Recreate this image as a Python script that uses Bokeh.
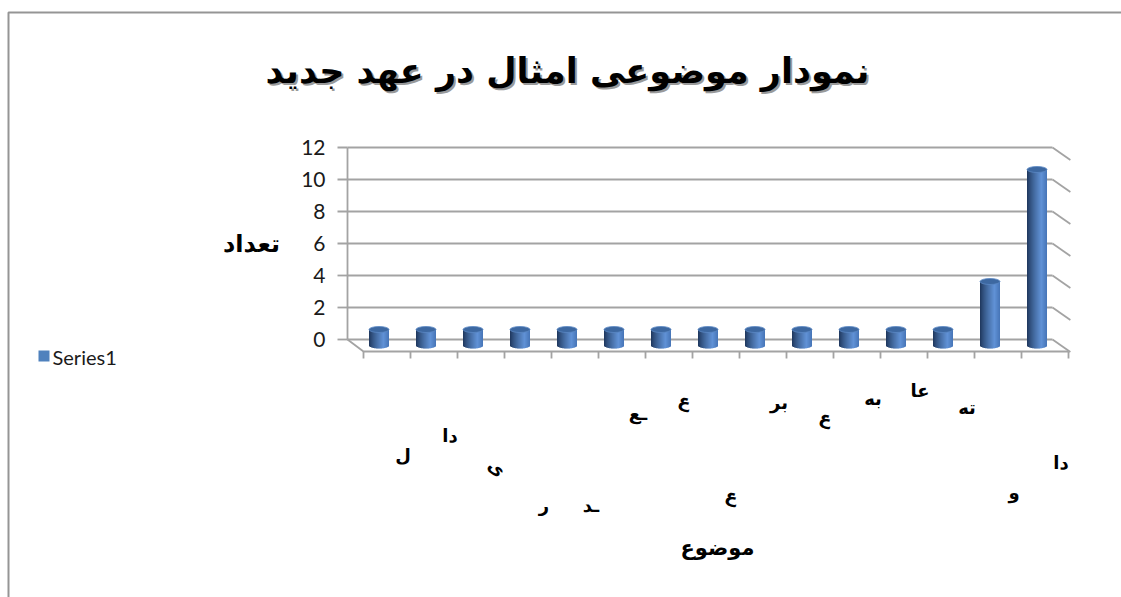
import numpy as np
from bokeh.plotting import figure
from bokeh.models import Range1d
from bokeh.core.properties import value
from bokeh.embed import file_html
from bokeh.resources import INLINE

# ---- chart content -------------------------------------------------------
title_text = "نمودار موضوعی امثال در عهد جدید"
y_title = "تعداد"
x_title = "موضوع"
series_name = "Series1"

# category labels (only short pieces of each label are visible)
category_labels = ["ل", "دا", "ی", "ر", "ـد", "ـع", "ع", "ع", "بر", "ع",
                   "به", "عا", "ته", "و", "دا"]
counts = [1, 1, 1, 1, 1, 1, 1, 1, 1, 1, 1, 1, 1, 4, 11]
y_ticks = [0, 2, 4, 6, 8, 10, 12]

# how far below the floor each category label sits (px) and its tilt
label_drop = [104, 84, 116, 154, 154, 62, 49, 144, 51, 66, 47, 39, 56, 141, 111]
label_angle = [0, 0, -0.7, 0, 0, 0, -0.3, -0.3, 0, -0.3, 0, 0, 0, 0, 0]

# ---- geometry of the pseudo-3D frame ------------------------------------
W, H = 1121, 597
X0, Y0 = 363, 351          # front-left corner of the floor (px)
PX_U, PX_V = 47, 16        # px per category, px per count unit
DX, DY = -16, -12          # back wall offset from the front plane (px)

def ux(px):
    return (px - X0) / PX_U

def vy(py):
    return (Y0 - py) / PX_V

du, dv = DX / PX_U, -DY / PX_V
n = len(counts)

p = figure(width=W, height=H, output_backend="svg", toolbar_location=None,
           x_range=Range1d(ux(0), ux(W)), y_range=Range1d(vy(H), vy(0)),
           min_border=0, x_axis_location=None, y_axis_location=None,
           background_fill_color="white", border_fill_color="white",
           outline_line_color=None)
p.grid.visible = False

grid_col = "#a3a3a3"
gw = 1.8

# outer chart border
p.line([ux(8), ux(8), ux(W + 5)], [vy(H + 5), vy(12), vy(12)],
       line_color="#959595", line_width=2)

# back-wall gridlines and right side-wall lines
ticks = np.array(y_ticks, dtype=float)
p.segment(x0=[du] * len(ticks), y0=ticks + dv, x1=[n + du] * len(ticks),
          y1=ticks + dv, line_color=grid_col, line_width=gw)
p.segment(x0=[n + du] * len(ticks), y0=ticks + dv, x1=[n + 0.04] * len(ticks),
          y1=ticks - 0.03, line_color=grid_col, line_width=gw)
# left wall edge and its tick marks
p.segment(x0=[du], y0=[dv], x1=[du], y1=[ticks.max() + dv],
          line_color=grid_col, line_width=gw)
p.segment(x0=[du - 10 / PX_U] * len(ticks), y0=ticks + dv,
          x1=[du] * len(ticks), y1=ticks + dv, line_color=grid_col, line_width=gw)
# floor edges
p.line([du, 0, n], [dv, 0, 0], line_color=grid_col, line_width=gw)
idx = np.arange(n + 1)
p.segment(x0=idx, y0=[0] * (n + 1), x1=idx, y1=[-7 / PX_V] * (n + 1),
          line_color=grid_col, line_width=gw)

# y tick labels
p.text(x=[ux(325)] * len(ticks), y=ticks + dv, text=[str(t) for t in y_ticks],
       text_font=value("Lato"), text_font_size="21px", text_color="#1a1a1a",
       text_align="right", text_baseline="middle")

# ---- cylinders -----------------------------------------------------------
def shade(t):
    # horizontal shading across a cylinder: dark left edge, highlight right of centre
    dark = np.array([28, 52, 88])
    light = np.array([96, 146, 214])
    edge = np.array([70, 116, 182])
    if t < 0.72:
        c = dark + (light - dark) * (t / 0.72) ** 0.8
    else:
        c = light + (edge - light) * ((t - 0.72) / 0.28)
    return "#%02x%02x%02x" % tuple(int(round(x)) for x in c)

half_w = 10 / PX_U
ry = 3 / PX_V
stripes = 20
centers = np.arange(n) + 0.5 + du / 2
base = dv / 2
vals = np.array(counts, dtype=float)
for j in range(stripes):
    t0 = j / stripes
    tc = (j + 0.5) / stripes
    s = 2 * tc - 1
    left = centers - half_w + 2 * half_w * t0
    right = left + 2 * half_w / stripes * 1.35
    right = np.minimum(right, centers + half_w)
    bottom = base - ry * np.sqrt(max(0.0, 1 - s * s))
    p.quad(left=left, right=right, bottom=[bottom] * n, top=vals + base,
           fill_color=shade(tc), line_color=None)
# top caps
p.ellipse(x=centers, y=vals + base, width=20, height=6,
          width_units="screen", height_units="screen",
          fill_color="#3d68a1", line_color="#5a88c4", line_width=0.8)

# ---- category labels -----------------------------------------------------
lx = np.arange(n) + 0.5 + 16 / PX_U
ly = [vy(Y0 + d) for d in label_drop]
p.text(x=lx, y=ly, text=category_labels, angle=label_angle,
       text_font=value("DejaVu Sans"), text_font_style="bold",
       text_font_size="18px", text_color="black",
       text_align="center", text_baseline="middle")

# ---- titles --------------------------------------------------------------
p.text(x=[ux(569)], y=[vy(72)], text=[title_text], text_font=value("DejaVu Sans"),
       text_font_style="bold", text_font_size="35px", text_color="#9a9a9a",
       text_align="center", text_baseline="middle")
p.text(x=[ux(567)], y=[vy(70)], text=[title_text], text_font=value("DejaVu Sans"),
       text_font_style="bold", text_font_size="35px", text_color="black",
       text_align="center", text_baseline="middle")

p.text(x=[ux(251)], y=[vy(243)], text=[y_title], text_font=value("DejaVu Sans"),
       text_font_style="bold", text_font_size="24px", text_color="black",
       text_align="center", text_baseline="middle")
p.text(x=[ux(717)], y=[vy(547)], text=[x_title], text_font=value("DejaVu Sans"),
       text_font_style="bold", text_font_size="21px", text_color="black",
       text_align="center", text_baseline="middle")

# ---- legend --------------------------------------------------------------
p.scatter(x=[ux(43.5)], y=[vy(355.5)], marker="square", size=11,
          fill_color="#4f81bd", line_color=None)
p.text(x=[ux(52)], y=[vy(356)], text=[series_name], text_font=value("Lato"),
       text_font_size="20px", text_color="#1a1a1a",
       text_align="left", text_baseline="middle")

open("out.html", "w").write(file_html(p, INLINE))
